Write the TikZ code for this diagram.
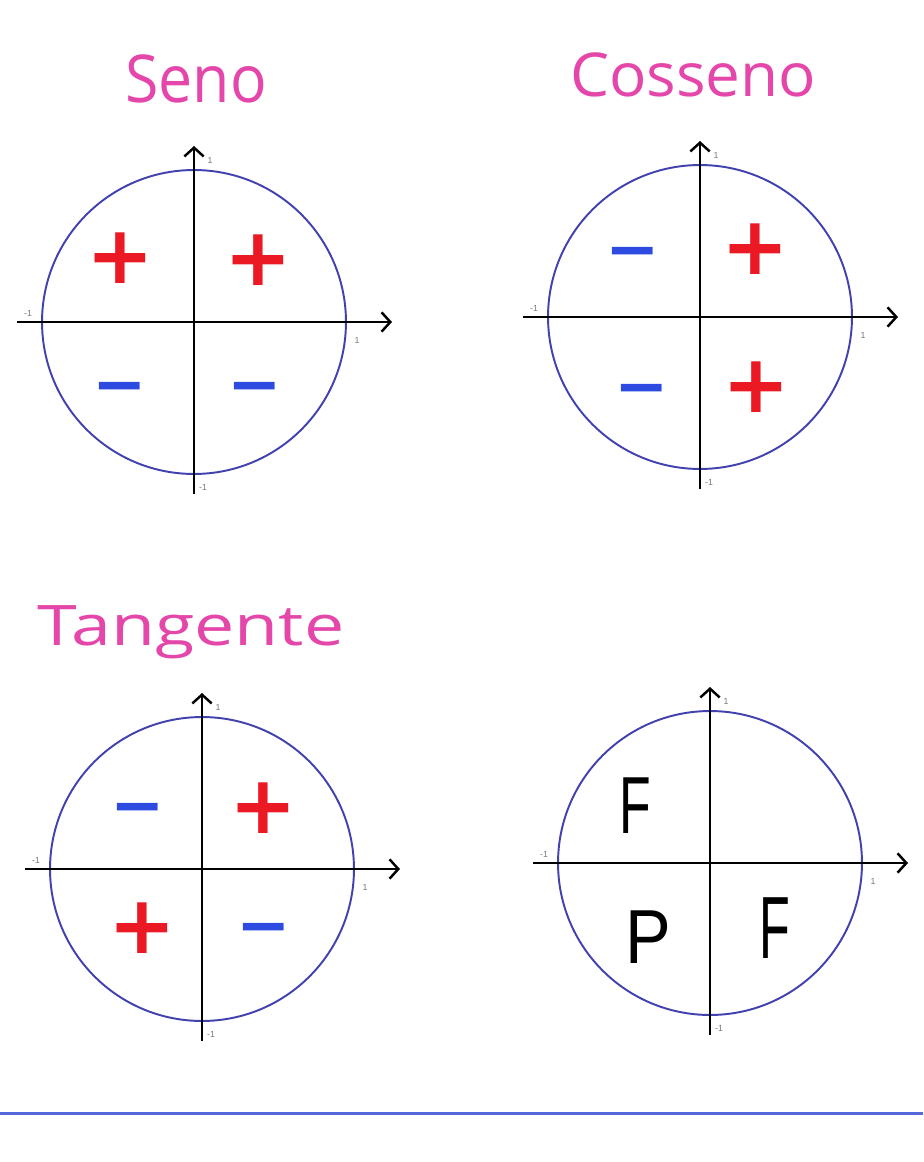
\documentclass[tikz,border=0pt]{standalone}
\usepackage{fontspec}
\usepackage{graphicx}
\setmainfont{Open Sans}
\newfontfamily\signfont{DejaVu Sans}
\newfontfamily\letterfont{Liberation Sans}
\usetikzlibrary{arrows.meta}
\definecolor{titlepink}{RGB}{228,70,170}
\definecolor{circblue}{RGB}{65,65,175}
\definecolor{signred}{RGB}{235,25,35}
\definecolor{signblue}{RGB}{45,75,225}
\definecolor{ruleblue}{RGB}{85,105,220}
\definecolor{tickgray}{RGB}{120,120,120}
\tikzset{
  unitcirc/.style={draw=circblue, line width=1.1pt, circle, minimum size=6.08cm, inner sep=0pt},
  axisline/.style={draw=black, line width=1.4pt, -{Straight Barb[length=5pt,width=11pt,line width=1.4pt]}},
  ticklbl/.style={text=tickgray, font=\letterfont\fontsize{5pt}{5pt}\selectfont, inner sep=0pt},
  titlelbl/.style={text=titlepink, anchor=base, inner sep=0pt},
  plussign/.style={text=signred, font=\signfont\bfseries\fontsize{46pt}{46pt}\selectfont, inner sep=0pt, anchor=center},
  minussign/.style={text=signblue, font=\signfont\bfseries\fontsize{37pt}{37pt}\selectfont, inner sep=0pt, anchor=center, yshift=-4.8pt},
  letterlbl/.style={text=black, font=\letterfont, anchor=base, inner sep=0pt},
  rulestyle/.style={draw=ruleblue, line width=1.7pt}
}
\newcommand\unitdiskaxes{%
  \node[unitcirc] (circ) at (0,0) {};
  \coordinate (xl) at (-177,0);
  \coordinate (xr) at (198,0);
  \coordinate (yb) at (0,172);
  \coordinate (yt) at (0,-176);
  \draw[axisline] (xl) -- (xr);
  \draw[axisline] (yb) -- (yt);
  \node[ticklbl] (ty) at (16,-162) {1};
  \node[ticklbl] (tx) at (163,18) {1};
  \node[ticklbl] (txm) at (-166,-9) {-1};
  \node[ticklbl] (tym) at (9,165) {-1};
}
\begin{document}
\begin{tikzpicture}[x=0.02cm, y=-0.02cm]
\useasboundingbox[fill=white] (0,0) rectangle (923,1162);

% titles
\node[titlelbl] (tseno) at (196,103) {\resizebox{80.5pt}{27.2pt}{Seno}};
\node[titlelbl] (tcos) at (693,97) {\resizebox{140pt}{24.9pt}{Cosseno}};
\node[titlelbl] (ttan) at (191,645) {\resizebox{174.6pt}{22.7pt}{Tangente}};

% diagrams
\begin{scope}[shift={(194,322)}, name prefix=s-]
  \unitdiskaxes
\end{scope}
\begin{scope}[shift={(700,317)}, name prefix=c-]
  \unitdiskaxes
\end{scope}
\begin{scope}[shift={(202,869)}, name prefix=t-]
  \unitdiskaxes
\end{scope}
\begin{scope}[shift={(710,863)}, name prefix=f-]
  \unitdiskaxes
\end{scope}

% Seno signs
\node[plussign] (s1) at (120,258) {+};
\node[plussign] (s2) at (258,260) {+};
\node[minussign] (s3) at (120,386) {−};
\node[minussign] (s4) at (255,386) {−};
% Cosseno signs
\node[minussign] (c2) at (633,251) {−};
\node[plussign] (c1) at (755,249) {+};
\node[minussign] (c3) at (642,388) {−};
\node[plussign] (c4) at (756,387) {+};
% Tangente signs
\node[minussign] (t2) at (138,807) {−};
\node[plussign] (t1) at (263,808) {+};
\node[plussign] (t3) at (142,928) {+};
\node[minussign] (t4) at (264,927) {−};

% letters
\node[letterlbl] (f2) at (635,833) {\resizebox{18pt}{31.7pt}{F}};
\node[letterlbl] (f3) at (648,963) {\resizebox{26pt}{30pt}{P}};
\node[letterlbl] (f4) at (775,958) {\resizebox{17.5pt}{34.6pt}{F}};

% bottom rule
\coordinate (rl) at (0,1113);
\coordinate (rr) at (923,1113);
\draw[rulestyle] (rl) -- (rr);
\end{tikzpicture}
\end{document}
